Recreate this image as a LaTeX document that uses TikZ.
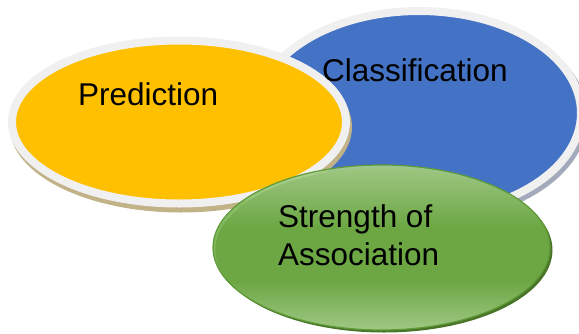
\documentclass[tikz,border=0pt]{standalone}
\usepackage{fontspec}
\setmainfont{Liberation Sans}
\usetikzlibrary{shapes.geometric}
\definecolor{cyellow}{HTML}{FFC000}
\definecolor{cblue}{HTML}{4472C4}
\definecolor{cgreen}{HTML}{70AD47}
\definecolor{glight}{HTML}{A9D18E}
\definecolor{gdark}{HTML}{5E9A36}
\definecolor{gshadow}{HTML}{4A7529}
\definecolor{cborder}{HTML}{F0F0F0}
\definecolor{bshadow}{HTML}{A3AABB}
\definecolor{yshadow}{HTML}{C2B287}
\pgfdeclareverticalshading{gshade}{100bp}{color(0bp)=(glight); color(25bp)=(glight); color(40bp)=(cgreen); color(56bp)=(cgreen); color(75bp)=(glight); color(100bp)=(glight)}
\begin{document}
\begin{tikzpicture}[x=1pt,y=-1pt,
  blob/.style={ellipse, inner sep=0pt, outer sep=0pt},
  txt/.style={font=\fontsize{31.5}{37.8}\selectfont, inner sep=0pt, anchor=base west, text=black}]
\useasboundingbox (0,0) rectangle (579,333);
% blue
\node[blob, fill=bshadow, minimum width=332pt, minimum height=212pt] (bsh) at (422,117) {};
\node[blob, fill=cblue, draw=cborder, line width=8pt, minimum width=324pt, minimum height=204pt] (blue) at (419,113) {};
% yellow
\node[blob, fill=yshadow, minimum width=342pt, minimum height=171pt] (ysh) at (181,127) {};
\node[blob, fill=cyellow, draw=cborder, line width=8pt, minimum width=334pt, minimum height=163pt] (yellow) at (179,122) {};
% green
\node[blob, fill=gshadow, minimum width=337pt, minimum height=165pt] (gsh) at (384,250) {};
\node[blob, draw=gdark, line width=1.2pt, shading=gshade, fill opacity=0.9, minimum width=337pt, minimum height=165pt] (green) at (381.5,247.5) {};
% texts
\node[txt] (tpred) at (78,105) {Prediction};
\node[txt] (tclass) at (322,81) {Classification};
\node[txt] (tstr) at (278,227) {Strength of};
\node[txt] (tassoc) at (278,265) {Association};
\end{tikzpicture}
\end{document}
